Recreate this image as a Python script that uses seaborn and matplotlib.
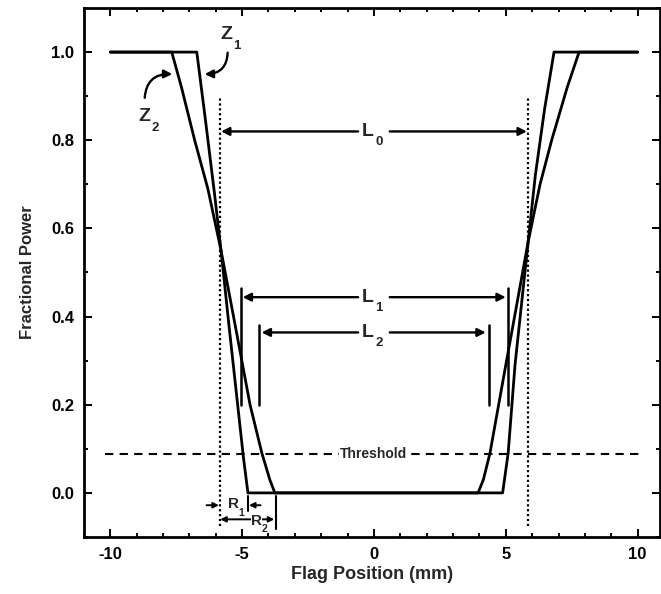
import numpy as np
import pandas as pd
import matplotlib
matplotlib.use("Agg")
import matplotlib.pyplot as plt
import seaborn as sns
from matplotlib.ticker import MultipleLocator

# ---- data ----
z1_x = [-10, -6.72, -6.4, -6.05, -5.8, -5.5, -5.17, -4.95, -4.78,
        4.88, 5.09, 5.35, 5.85, 6.12, 6.47, 6.83, 10]
z1_y = [1.0, 1.0, 0.85, 0.68, 0.55, 0.38, 0.20, 0.08, 0.0,
        0.0, 0.09, 0.29, 0.57, 0.72, 0.87, 1.0, 1.0]
z2_x = [-10, -7.67, -7.3, -6.8, -6.3, -5.8, -5.2, -4.7, -4.25, -3.95, -3.76,
        3.95, 4.15, 4.4, 5.0, 5.85, 6.3, 6.74, 7.33, 7.78, 10]
z2_y = [1.0, 1.0, 0.92, 0.80, 0.69, 0.55, 0.36, 0.20, 0.09, 0.03, 0.0,
        0.0, 0.03, 0.09, 0.29, 0.57, 0.70, 0.80, 0.92, 1.0, 1.0]
threshold = 0.089
l0_edges = [-5.83, 5.83]
l1_edges = [-5.06, 5.08]
l2_edges = [-4.36, 4.36]
xticks = [-10, -5, 0, 5, 10]
yticks = [0.0, 0.2, 0.4, 0.6, 0.8, 1.0]

df = pd.concat([
    pd.DataFrame({"x": z1_x, "y": z1_y, "curve": "Z1"}),
    pd.DataFrame({"x": z2_x, "y": z2_y, "curve": "Z2"}),
])

sns.set_theme(style="ticks")
plt.rcParams["font.family"] = ["Liberation Sans", "DejaVu Sans"]
plt.rcParams["font.weight"] = "bold"

fig = plt.figure(figsize=(6.61, 5.94), dpi=100)
ax = fig.add_axes([0.127, 0.096, 0.8715, 0.8905])

sns.lineplot(data=df, x="x", y="y", units="curve", estimator=None, sort=False,
             color="black", lw=2.0, ax=ax, legend=False)

ax.set_xlim(-11.0, 10.85)
ax.set_ylim(-0.10, 1.10)
ax.set_xticks(xticks)
ax.set_yticks(yticks)
ax.set_xticklabels([str(v) for v in xticks], fontsize=12, fontweight="bold")
ax.set_yticklabels([f"{v:.1f}" for v in yticks], fontsize=12, fontweight="bold")
ax.xaxis.set_minor_locator(MultipleLocator(1))
ax.yaxis.set_minor_locator(MultipleLocator(0.1))
ax.tick_params(which="both", direction="in", top=True, right=True, width=1.4, colors="black")
ax.tick_params(which="major", length=6, pad=7)
ax.tick_params(which="minor", length=3)
for s in ax.spines.values():
    s.set_linewidth(2.0)
    s.set_color("black")
ax.set_xlabel("Flag Position (mm)", fontsize=13, fontweight="bold", labelpad=3)
ax.set_ylabel("Fractional Power", fontsize=12, fontweight="bold", labelpad=12)

# threshold line
ax.plot([-10.2, 10.2], [threshold, threshold], ls=(0, (4, 3)), color="black", lw=1.5)
ax.text(0, threshold, "Threshold", ha="center", va="center", fontsize=10, fontweight="bold",
        bbox=dict(facecolor="white", edgecolor="none", pad=1.0))

# dotted vertical lines
for xv in l0_edges:
    ax.plot([xv, xv], [-0.075, 0.9], ls=(0, (1, 1.2)), color="black", lw=1.6)

def dim_arrow(x0, x1, y, gap, label, sub):
    ap = dict(arrowstyle="-|>", color="black", lw=1.7, mutation_scale=12, shrinkA=0, shrinkB=0)
    ax.annotate("", xy=(x0, y), xytext=(-gap, y), arrowprops=ap)
    ax.annotate("", xy=(x1, y), xytext=(gap, y), arrowprops=ap)
    ax.text(-0.02, y, label, ha="right", va="center", fontsize=14, fontweight="bold")
    ax.text(0.05, y - 0.025, sub, ha="left", va="center", fontsize=9.5, fontweight="bold")

dim_arrow(l0_edges[0] + 0.03, l0_edges[1] - 0.03, 0.82, 0.6, "L", "0")
dim_arrow(l1_edges[0] + 0.08, l1_edges[1] - 0.08, 0.444, 0.6, "L", "1")
dim_arrow(l2_edges[0] + 0.1, l2_edges[1] - 0.12, 0.364, 0.6, "L", "2")
for xv in l1_edges:
    ax.plot([xv, xv], [0.20, 0.465], color="black", lw=1.8)
for xv in l2_edges:
    ax.plot([xv, xv], [0.20, 0.38], color="black", lw=1.8)

# Z labels with curved arrows
ax.text(-5.6, 1.04, "Z", ha="center", va="center", fontsize=14, fontweight="bold")
ax.text(-5.2, 1.013, "1", ha="center", va="center", fontsize=9.5, fontweight="bold")
ax.annotate("", xy=(-6.42, 0.95), xytext=(-5.55, 1.005),
            arrowprops=dict(arrowstyle="-|>", color="black", lw=1.7, mutation_scale=12,
                            connectionstyle="arc3,rad=-0.5", shrinkA=2, shrinkB=0))
ax.text(-8.7, 0.855, "Z", ha="center", va="center", fontsize=14, fontweight="bold")
ax.text(-8.3, 0.828, "2", ha="center", va="center", fontsize=9.5, fontweight="bold")
ax.annotate("", xy=(-7.65, 0.95), xytext=(-8.7, 0.89),
            arrowprops=dict(arrowstyle="-|>", color="black", lw=1.7, mutation_scale=12,
                            connectionstyle="arc3,rad=-0.5", shrinkA=2, shrinkB=0))

# R annotations
ap_s = dict(arrowstyle="-|>", color="black", lw=1.4, mutation_scale=8, shrinkA=0, shrinkB=0)
ax.annotate("", xy=(-5.88, -0.028), xytext=(-6.35, -0.028), arrowprops=ap_s)
ax.annotate("", xy=(-4.74, -0.028), xytext=(-4.3, -0.028), arrowprops=ap_s)
ax.text(-5.32, -0.025, "R", ha="center", va="center", fontsize=11, fontweight="bold")
ax.text(-5.03, -0.045, "1", ha="center", va="center", fontsize=7.5, fontweight="bold")
ax.plot([-4.78, -4.78], [-0.007, -0.041], color="black", lw=1.5)
ax.annotate("", xy=(-5.83, -0.06), xytext=(-3.78, -0.06),
            arrowprops=dict(arrowstyle="<|-|>", color="black", lw=1.4, mutation_scale=8,
                            shrinkA=0, shrinkB=0))
ax.text(-4.45, -0.063, "R", ha="center", va="center", fontsize=11, fontweight="bold",
        bbox=dict(facecolor="white", edgecolor="none", pad=0.2))
ax.text(-4.15, -0.083, "2", ha="center", va="center", fontsize=7.5, fontweight="bold")
ax.plot([-3.72, -3.72], [-0.007, -0.082], color="black", lw=1.5)

fig.savefig("out.png", dpi=100)
